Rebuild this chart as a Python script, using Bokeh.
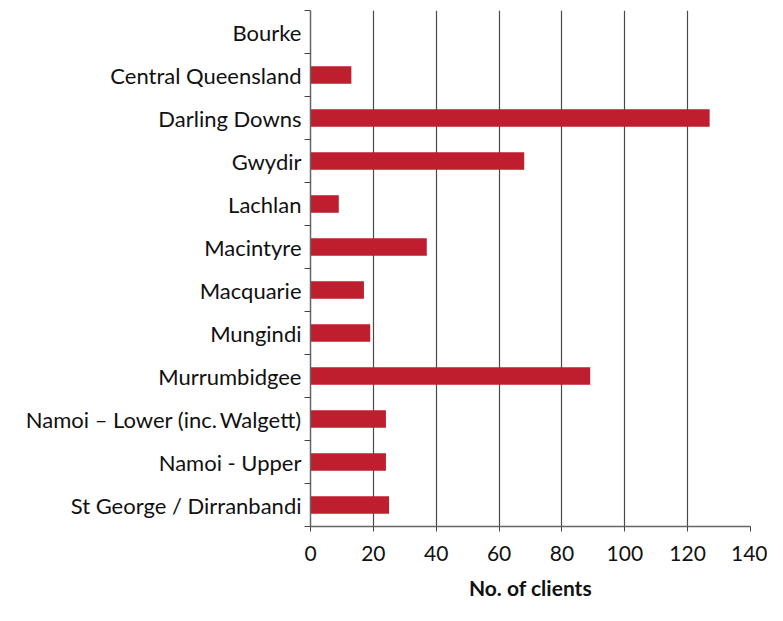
from bokeh.plotting import figure
from bokeh.models import FixedTicker, Range1d
from bokeh.embed import file_html
from bokeh.resources import INLINE

categories = ["Bourke", "Central Queensland", "Darling Downs", "Gwydir", "Lachlan",
              "Macintyre", "Macquarie", "Mungindi", "Murrumbidgee",
              "Namoi \u2013 Lower (inc.\u2009Walgett)", "Namoi - Upper", "St George / Dirranbandi"]
clients = [0, 13, 127, 68, 9, 37, 17, 19, 89, 24, 24, 25]
x_ticks = [0, 20, 40, 60, 80, 100, 120, 140]

n = len(categories)
ypos = [n - 1 - i for i in range(n)]

FONT = "Lato"

p = figure(width=767, height=605, output_backend="svg", toolbar_location=None,
           x_range=Range1d(0, 140), y_range=Range1d(-0.5, n - 0.5),
           min_border_left=310, min_border_right=17, min_border_top=10, min_border_bottom=79)

p.hbar(y=ypos, right=clients, left=0, height=0.41, color="#BE1E2D", line_color=None)

p.outline_line_color = None
p.ygrid.grid_line_color = None
p.xgrid.grid_line_color = "#4a4a4a"
p.xgrid.grid_line_width = 1.2
p.xgrid.ticker = FixedTicker(ticks=x_ticks)

# x axis
p.xaxis.ticker = FixedTicker(ticks=x_ticks)
p.xaxis.axis_label = "No. of clients"
p.xaxis.axis_label_text_font = FONT
p.xaxis.axis_label_text_font_style = "bold"
p.xaxis.axis_label_text_font_size = "21px"
p.xaxis.axis_label_text_color = "#111111"
p.xaxis.axis_label_standoff = 11
p.xaxis.major_label_text_font = FONT
p.xaxis.major_label_text_font_size = "21px"
p.xaxis.major_label_text_color = "#111111"
p.xaxis.major_label_standoff = 14
p.xaxis.major_tick_in = 0
p.xaxis.major_tick_out = 5
p.xaxis.minor_tick_out = 0
p.xaxis.minor_tick_in = 0
p.xaxis.axis_line_color = "#666666"
p.xaxis.axis_line_width = 1.5
p.xaxis.major_tick_line_color = "#444444"

# y axis
boundaries = [i - 0.5 for i in range(n + 1)]
p.yaxis.ticker = FixedTicker(ticks=ypos, minor_ticks=boundaries)
p.yaxis.major_label_overrides = {y: c for y, c in zip(ypos, categories)}
p.yaxis.major_tick_in = 0
p.yaxis.major_tick_out = 0
p.yaxis.minor_tick_in = 0
p.yaxis.minor_tick_out = 6
p.yaxis.minor_tick_line_color = "#444444"
p.yaxis.axis_line_color = "#666666"
p.yaxis.axis_line_width = 1.5
p.yaxis.major_label_standoff = 3
p.yaxis.major_label_text_font = FONT
p.yaxis.major_label_text_font_size = "22px"
p.yaxis.major_label_text_color = "#111111"

open("out.html", "w").write(file_html(p, INLINE))
